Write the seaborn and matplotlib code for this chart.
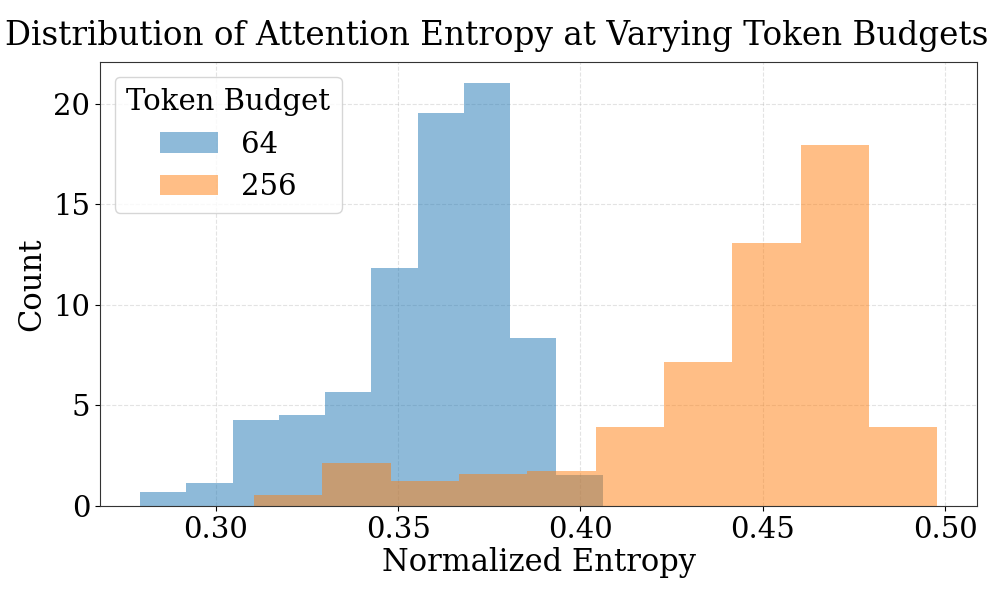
import matplotlib
matplotlib.use("Agg")
import matplotlib.pyplot as plt
import seaborn as sns
import numpy as np
import pandas as pd

# Bin edges and bar heights (density values)
edges_64 = [0.2792, 0.2919, 0.3046, 0.3173, 0.3300, 0.3427, 0.3554, 0.3680, 0.3807, 0.3934, 0.4061]
heights_64 = [0.68, 1.16, 4.30, 4.54, 5.68, 11.86, 19.54, 21.03, 8.38, 1.54]

edges_256 = [0.3105, 0.3292, 0.3480, 0.3667, 0.3854, 0.4042, 0.4229, 0.4416, 0.4604, 0.4791, 0.4978]
heights_256 = [0.55, 2.12, 1.26, 1.57, 1.72, 3.94, 7.15, 13.10, 17.97, 3.94]

budget_labels = ["64", "256"]
colors = ["#1f77b4", "#ff7f0e"]

plt.rcParams['font.family'] = ['DejaVu Serif']

fig = plt.figure(figsize=(9.96, 5.98), dpi=100)
ax = fig.add_axes([100/996, 1-506/598, (977-100)/996, (506-62)/598])

for edges, heights, lab, col in [(edges_64, heights_64, budget_labels[0], colors[0]),
                                  (edges_256, heights_256, budget_labels[1], colors[1])]:
    e = np.array(edges)
    centers = (e[:-1] + e[1:]) / 2
    df = pd.DataFrame({"x": centers, "w": heights})
    sns.histplot(data=df, x="x", weights="w", bins=list(edges), color=col, alpha=0.5,
                 stat="count", label=lab, ax=ax, edgecolor="none", linewidth=0)

ax.set_xlabel("Normalized Entropy", fontsize=22, labelpad=2)
ax.set_ylabel("Count", fontsize=22)
ax.tick_params(labelsize=21)
ax.grid(True, linestyle="--", alpha=0.35)
ax.set_axisbelow(True)
for s in ax.spines.values():
    s.set_color("#333333")
ax.set_xticks([0.30, 0.35, 0.40, 0.45, 0.50])
ax.set_yticks([0, 5, 10, 15, 20])
leg = ax.legend(title="Token Budget", fontsize=21, title_fontsize=21, loc="upper left")
ax.set_title("Distribution of Attention Entropy at Varying Token Budgets", fontsize=23.5,
             pad=12, x=(496.7-100)/877)

fig.savefig("out.png", dpi=100)
